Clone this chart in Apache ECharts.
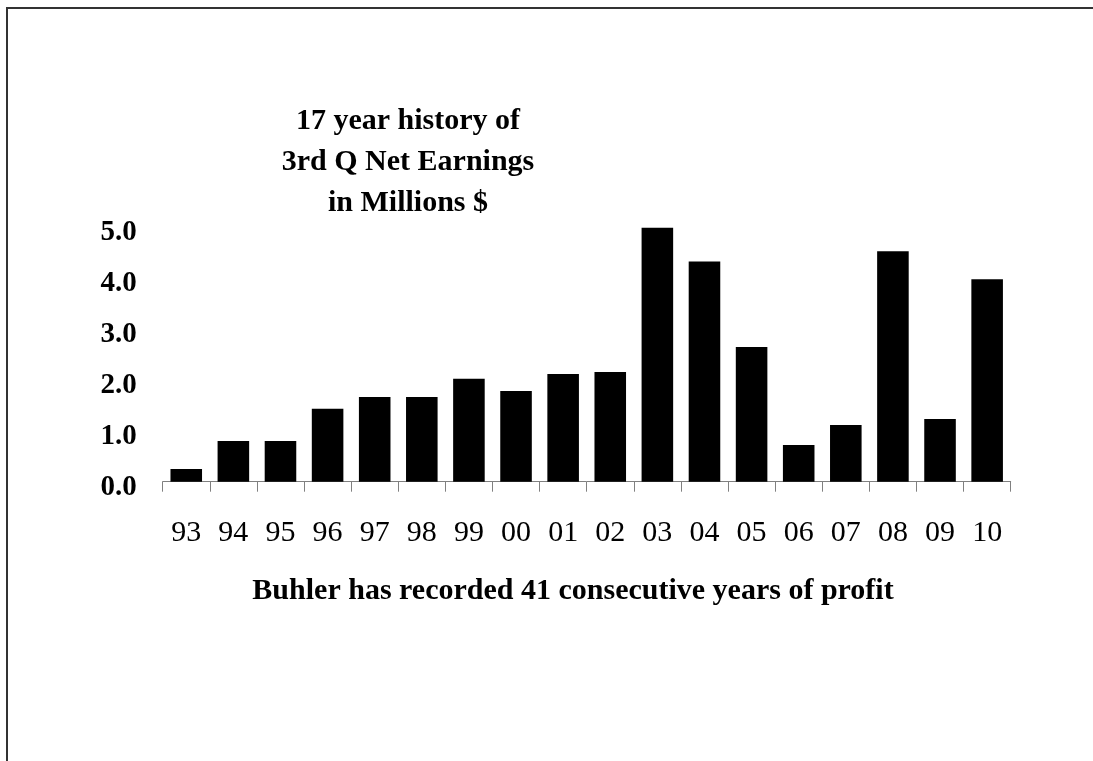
<!DOCTYPE html>
<html>
<head>
<meta charset="utf-8">
<script src="https://cdn.jsdelivr.net/npm/echarts@6/dist/echarts.min.js"></script>
<style>html,body{margin:0;padding:0;background:#fff;}#c{width:1093px;height:761px;}</style>
</head>
<body>
<div id="c"></div>
<script>
const categories = ['93','94','95','96','97','98','99','00','01','02','03','04','05','06','07','08','09','10'];
const earnings = [0.25, 0.80, 0.80, 1.43, 1.66, 1.66, 2.02, 1.78, 2.11, 2.15, 4.98, 4.32, 2.64, 0.72, 1.11, 4.52, 1.23, 3.97];
const yTicks = [0, 1, 2, 3, 4, 5];
const titleText = '17 year history of\n3rd Q Net Earnings\nin Millions $';
const footText = 'Buhler has recorded 41 consecutive years of profit';

const FONT = '"Liberation Serif", "Times New Roman", serif';
const chart = echarts.init(document.getElementById('c'), null, {renderer: 'canvas'});
chart.setOption({
  animation: false,
  backgroundColor: '#ffffff',
  title: [
    {
      text: titleText,
      left: 403, top: 96, textAlign: 'center',
      textStyle: {fontFamily: FONT, fontWeight: 'bold', fontSize: 30, lineHeight: 41, color: '#000'}
    },
    {
      text: footText,
      left: 568, top: 571, textAlign: 'center',
      textStyle: {fontFamily: FONT, fontWeight: 'bold', fontSize: 30, color: '#000'}
    }
  ],
  graphic: [
    {type: 'polyline', shape: {points: [[7, 800], [7, 8], [1100, 8]]},
     style: {stroke: '#333', lineWidth: 2, fill: null}, silent: true}
  ],
  grid: {left: 162.7, right: 82.3, top: 226.7, bottom: 279.3, containLabel: false},
  xAxis: {
    type: 'category',
    data: categories,
    boundaryGap: true,
    axisLine: {show: true, lineStyle: {color: '#808080', width: 1}},
    axisTick: {show: true, length: 10, lineStyle: {color: '#808080', width: 1}, alignWithLabel: false},
    axisLabel: {fontFamily: FONT, fontSize: 30, color: '#000', margin: 36, interval: 0}
  },
  yAxis: {
    type: 'value',
    min: 0, max: 5, interval: 1,
    axisLine: {show: false},
    axisTick: {show: false},
    splitLine: {show: false},
    axisLabel: {
      margin: 26,
      formatter: v => yTicks.includes(v) ? '{v|' + v.toFixed(1) + '}' : '',
      rich: {
        v: {fontFamily: FONT, fontSize: 29, fontWeight: 'bold', color: '#000', padding: [12, 0, 0, 0]}
      }
    }
  },
  series: [{
    type: 'bar',
    data: earnings,
    barCategoryGap: '33%',
    itemStyle: {color: '#000'}
  }]
});
</script>
</body>
</html>
